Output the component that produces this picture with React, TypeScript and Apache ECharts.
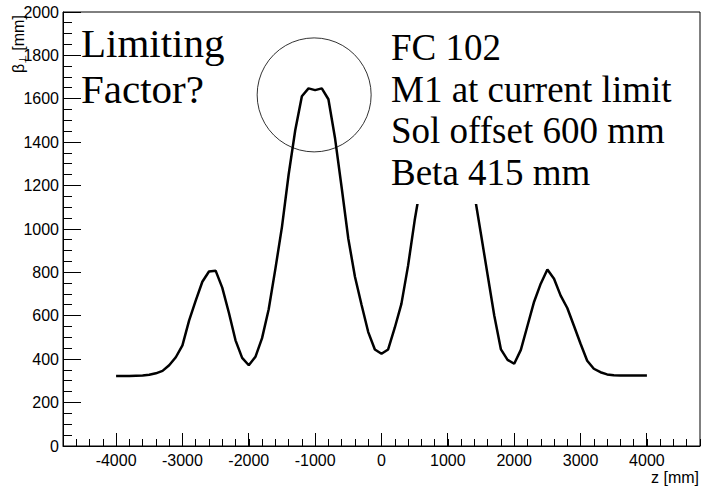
import React, { useEffect, useRef } from "react";
import * as echarts from "echarts";

const zPositions = [
  -4000, -3900, -3800, -3700, -3600, -3500, -3400, -3300, -3200, -3100,
  -3000, -2900, -2800, -2700, -2600, -2500, -2400, -2300, -2200, -2100,
  -2000, -1900, -1800, -1700, -1600, -1500, -1400, -1300, -1200, -1100,
  -1000, -900, -800, -700, -600, -500, -400, -300, -200, -100,
  0, 100, 200, 300, 400, 500, 600, 700, 800, 900,
  1000, 1100, 1200, 1300, 1400, 1500, 1600, 1700, 1800, 1900,
  2000, 2100, 2200, 2300, 2400, 2500, 2600, 2700, 2800, 2900,
  3000, 3100, 3200, 3300, 3400, 3500, 3600, 3700, 3800, 3900, 4000,
];

const betaValues = [
  323, 323, 323, 324, 325, 328, 335, 346, 372, 409,
  464, 578, 670, 757, 804, 808, 730, 614, 487, 406,
  372, 411, 497, 630, 815, 1010, 1250, 1455, 1612, 1648,
  1640, 1648, 1598, 1418, 1190, 955, 780, 650, 525, 445,
  425, 445, 545, 655, 830, 1040, 1220, 1420, 1605, 1648,
  1640, 1648, 1610, 1440, 1160, 975, 787, 600, 445, 397,
  379, 443, 554, 665, 748, 813, 771, 693, 636, 554,
  471, 393, 356, 340, 330, 326, 325, 325, 325, 325, 325,
];

const xMajorTicks = [-4000, -3000, -2000, -1000, 0, 1000, 2000, 3000, 4000];
const yMajorTicks = [0, 200, 400, 600, 800, 1000, 1200, 1400, 1600, 1800, 2000];
const yMinorStep = 50;

const infoLines = ["FC 102", "M1 at current limit", "Sol offset 600 mm", "Beta 415 mm"];
const questionLines = ["Limiting", "Factor?"];
const xTitle = "z [mm]";
const yTitle = "{a|β}{b|⊥}{a| [mm]}";
const highlightCenter = [-1015, 1618];

const X_MIN = -4800;
const X_MAX = 4800;

export default function App() {
  const ref = useRef<HTMLDivElement>(null);
  useEffect(() => {
    if (!ref.current) return;
    const chart = echarts.init(ref.current, null, { renderer: "svg" });
    const axisFont = { fontFamily: "Liberation Sans", fontSize: 16, color: "#000" };
    const serif = "Liberation Serif";
    const data = zPositions.map((z, i) => [z, betaValues[i]]);

    const yTickData: number[][] = [];
    for (let i = 0; i < yMajorTicks.length; i++) {
      yTickData.push([X_MIN, yMajorTicks[i], 18]);
      if (i < yMajorTicks.length - 1) {
        for (let v = yMajorTicks[i] + yMinorStep; v < yMajorTicks[i + 1]; v += yMinorStep) {
          yTickData.push([X_MIN, v, 9]);
        }
      }
    }
    const xTickData = xMajorTicks.map((v) => [v, 0, 13]);

    const crisp = (n: number) => Math.round(n - 0.5) + 0.5;

    chart.setOption({
      animation: false,
      backgroundColor: "#fff",
      title: [
        {
          text: infoLines.join("\n"),
          left: 372,
          top: 13,
          padding: [13.6, 27, 10.5, 19],
          backgroundColor: "#fff",
          textStyle: { fontFamily: serif, fontSize: 37, fontWeight: "normal", lineHeight: 41.7, color: "#000" },
          z: 10,
        },
        {
          text: questionLines.join("\n"),
          left: 81,
          top: 20,
          padding: 0,
          textStyle: { fontFamily: serif, fontSize: 41, fontWeight: "normal", lineHeight: 46, color: "#000" },
          z: 10,
        },
        {
          text: xTitle,
          right: 5,
          top: 468,
          padding: 0,
          textStyle: { fontFamily: "Liberation Sans", fontSize: 16, fontWeight: "normal", lineHeight: 18, color: "#000" },
          z: 10,
        },
      ],
      grid: {
        left: 63,
        top: 12,
        width: 637,
        height: 434,
        show: true,
        borderColor: "#000",
        borderWidth: 1,
        backgroundColor: "transparent",
        outerBoundsMode: "none",
      },
      xAxis: {
        type: "value",
        min: X_MIN,
        max: X_MAX,
        interval: 200,
        axisLine: { show: true, onZero: false, lineStyle: { color: "#000", width: 1 } },
        axisTick: { show: true, inside: true, length: 7, lineStyle: { color: "#000" } },
        axisLabel: {
          ...axisFont,
          margin: 6,
          formatter: (v: number) => (v % 1000 === 0 && Math.abs(v) <= 4000 ? String(v) : ""),
        },
        splitLine: { show: false },
      },
      yAxis: {
        type: "value",
        min: 0,
        max: 2000,
        interval: 200,
        name: yTitle,
        nameLocation: "end",
        nameRotate: 90,
        nameGap: -61,
        nameMoveOverlap: false,
        nameTextStyle: {
          padding: [0, 0, 90, 0],
          verticalAlign: "middle",
          align: "left",
          rich: {
            a: { fontFamily: "Liberation Sans", fontSize: 16, color: "#000" },
            b: { fontFamily: "DejaVu Sans", fontSize: 10, color: "#000", padding: [8, 0, 0, 0] },
          },
        },
        axisLine: { show: true, onZero: false, lineStyle: { color: "#000", width: 1 } },
        axisTick: { show: false },
        minorTick: { show: false },
        axisLabel: { ...axisFont, margin: 4, formatter: (v: number) => String(v) },
        splitLine: { show: false },
        minorSplitLine: { show: false },
      },
      series: [
        {
          type: "line",
          data,
          showSymbol: false,
          symbol: "none",
          lineStyle: { color: "#000", width: 2.5 },
          z: 2,
        },
        {
          type: "scatter",
          data: [highlightCenter],
          symbol: "circle",
          symbolSize: 114,
          silent: true,
          itemStyle: { color: "transparent", borderColor: "#000", borderWidth: 1 },
          z: 3,
        },
        {
          type: "custom",
          silent: true,
          clip: false,
          z: 4,
          data: yTickData,
          renderItem: (params: any, api: any) => {
            const p = api.coord([api.value(0), api.value(1)]);
            const len = api.value(2);
            const y = crisp(p[1]);
            return {
              type: "line",
              shape: { x1: p[0], y1: y, x2: p[0] + len, y2: y },
              style: { stroke: "#000", lineWidth: 1 },
            };
          },
        },
        {
          type: "custom",
          silent: true,
          clip: false,
          z: 4,
          data: xTickData,
          renderItem: (params: any, api: any) => {
            const p = api.coord([api.value(0), api.value(1)]);
            const len = api.value(2);
            const x = crisp(p[0]);
            return {
              type: "line",
              shape: { x1: x, y1: p[1], x2: x, y2: p[1] - len },
              style: { stroke: "#000", lineWidth: 1 },
            };
          },
        },
      ],
    });
    return () => chart.dispose();
  }, []);
  return <div ref={ref} style={{ width: 704, height: 487, position: "fixed", left: 0, top: 0 }} />;
}
